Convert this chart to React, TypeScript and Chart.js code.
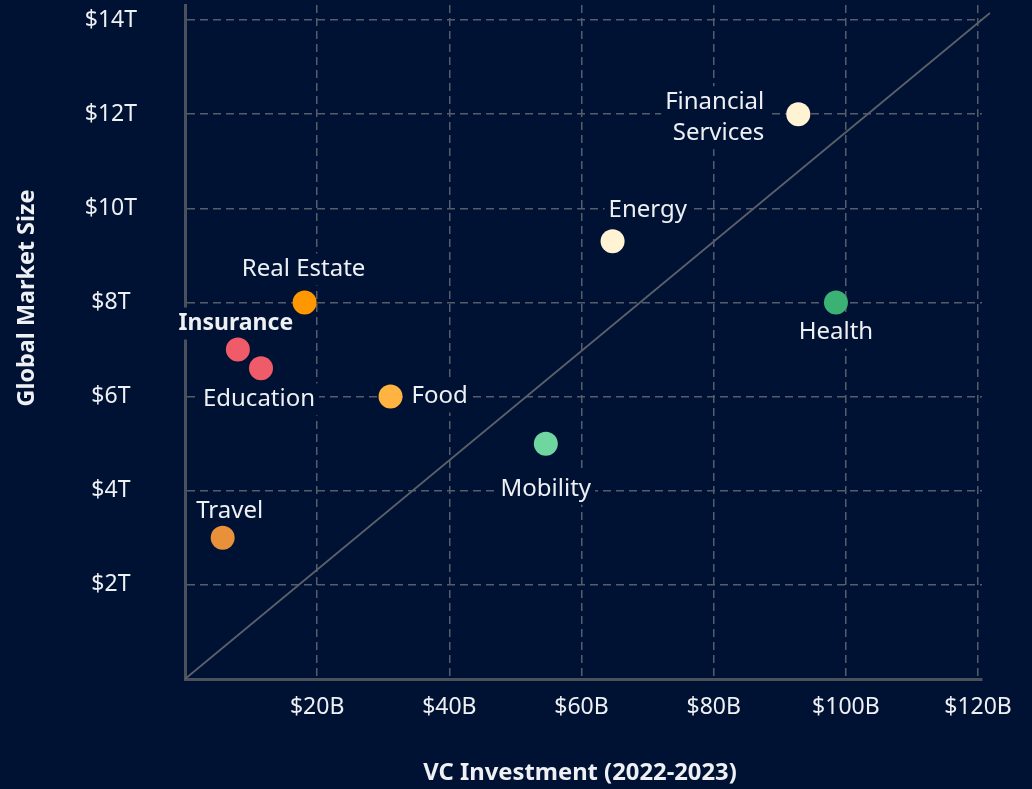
import React, { useEffect, useRef } from "react";
import { Chart, registerables } from "chart.js";

Chart.register(...registerables);

const categories = [
  "Financial Services",
  "Energy",
  "Health",
  "Real Estate",
  "Insurance",
  "Education",
  "Food",
  "Mobility",
  "Travel",
];
const vcInvestmentB = [92.8, 64.7, 98.5, 18.1, 8.0, 11.5, 31.1, 54.6, 5.7];
const marketSizeT = [12.0, 9.3, 8.0, 8.0, 7.0, 6.6, 6.0, 5.0, 3.0];
const pointColors = [
  "#fff3d4",
  "#fff3d4",
  "#3bb273",
  "#ff9800",
  "#ef5b68",
  "#ef5b68",
  "#ffb340",
  "#70d6a0",
  "#e8913a",
];
const xTickValues = [0, 20, 40, 60, 80, 100, 120];
const xTickLabels = ["", "$20B", "$40B", "$60B", "$80B", "$100B", "$120B"];
const yTickValues = [0, 2, 4, 6, 8, 10, 12, 14];
const yTickLabels = ["", "$2T", "$4T", "$6T", "$8T", "$10T", "$12T", "$14T"];
const diagonalX = [0, 121.8];
const diagonalY = [0, 14.15];
const xTitle = "VC Investment (2022-2023)";
const yTitle = "Global Market Size";

// label placement (style): lines, dx, dy, align, bold
const labelPlacement = [
  { lines: ["Financial", "Services"], dx: -34, dy: [-12, 19], align: "right", bold: false },
  { lines: ["Energy"], dx: -4, dy: [-31], align: "left", bold: false },
  { lines: ["Health"], dx: 0, dy: [30], align: "center", bold: false },
  { lines: ["Real Estate"], dx: -1, dy: [-33], align: "center", bold: false },
  { lines: ["Insurance"], dx: -2, dy: [-26], align: "center", bold: true },
  { lines: ["Education"], dx: -2, dy: [31], align: "center", bold: false },
  { lines: ["Food"], dx: 21, dy: [0], align: "left", bold: false },
  { lines: ["Mobility"], dx: 0, dy: [45], align: "center", bold: false },
  { lines: ["Travel"], dx: 7, dy: [-27], align: "center", bold: false },
];

const BG = "#001233";
const FONT = "'Noto Sans', sans-serif";
const TEXT = "#eef0f4";
const GRID = "#565c69";
const AXIS = "#4c505a";

const labelsPlugin = {
  id: "pointLabels",
  beforeDatasetsDraw(chart: any) {
    const { ctx } = chart;
    const xs = chart.scales.x;
    const ys = chart.scales.y;
    ctx.save();
    labelPlacement.forEach((lp, i) => {
      const px = xs.getPixelForValue(vcInvestmentB[i]);
      const py = ys.getPixelForValue(marketSizeT[i]);
      ctx.font = `${lp.bold ? "bold 23px" : "24px"} ${FONT}`;
      ctx.textBaseline = "middle";
      ctx.textAlign = lp.align;
      lp.lines.forEach((line, j) => {
        const w = ctx.measureText(line).width;
        const tx = px + lp.dx;
        const ty = py + lp.dy[j];
        let left = tx;
        if (lp.align === "center") left = tx - w / 2;
        else if (lp.align === "right") left = tx - w;
        ctx.fillStyle = BG;
        ctx.fillRect(left - 4, ty - 16, w + 8, 32);
        ctx.fillStyle = TEXT;
        ctx.fillText(line, tx, ty);
      });
    });
    ctx.restore();
  },
  afterDraw(chart: any) {
    const { ctx } = chart;
    ctx.save();
    ctx.fillStyle = TEXT;
    ctx.font = `bold 23.8px ${FONT}`;
    ctx.textAlign = "center";
    ctx.textBaseline = "middle";
    ctx.fillText(xTitle, 580, 773);
    ctx.font = `bold 23.4px ${FONT}`;
    ctx.translate(27, 298);
    ctx.rotate(-Math.PI / 2);
    ctx.fillText(yTitle, 0, 0);
    ctx.restore();
  },
};

export default function App() {
  const ref = useRef<HTMLCanvasElement>(null);
  useEffect(() => {
    document.body.style.margin = "0";
    document.body.style.background = BG;
    const chart = new Chart(ref.current as HTMLCanvasElement, {
      type: "scatter",
      data: {
        datasets: [
          {
            label: "Industries",
            data: categories.map((c, i) => ({ x: vcInvestmentB[i], y: marketSizeT[i] })),
            pointRadius: 12,
            pointHoverRadius: 12,
            pointBackgroundColor: pointColors,
            pointBorderWidth: 0,
            borderWidth: 0,
          },
          {
            label: "Parity",
            data: diagonalX.map((x, i) => ({ x, y: diagonalY[i] })),
            showLine: true,
            pointRadius: 0,
            borderColor: "#5c606a",
            borderWidth: 1.7,
            clip: false,
          } as any,
        ],
      },
      options: {
        responsive: false,
        animation: false,
        devicePixelRatio: 1,
        layout: { autoPadding: false, padding: { top: 5, right: 50, bottom: 0, left: 0 } },
        plugins: { legend: { display: false }, tooltip: { enabled: false } },
        scales: {
          x: {
            type: "linear",
            min: 0,
            max: 120.6,
            afterBuildTicks: (s: any) => {
              s.ticks = xTickValues.map((v) => ({ value: v }));
            },
            afterFit: (s: any) => {
              s.height = 110;
              s.paddingLeft = 0;
              s.paddingRight = 0;
            },
            grid: { color: GRID, lineWidth: 1.5, drawTicks: false },
            border: { display: true, color: AXIS, width: 3, dash: [8, 5] },
            ticks: {
              callback: (_v: any, i: number) => xTickLabels[i],
              color: TEXT,
              font: { family: FONT, size: 23 },
              padding: 15,
              maxRotation: 0,
              autoSkip: false,
            },
          },
          y: {
            type: "linear",
            min: 0,
            max: 14.32,
            afterBuildTicks: (s: any) => {
              s.ticks = yTickValues.map((v) => ({ value: v }));
            },
            afterFit: (s: any) => {
              s.width = 185;
              s.paddingTop = 0;
              s.paddingBottom = 0;
            },
            grid: { color: GRID, lineWidth: 1.5, drawTicks: false },
            border: { display: true, color: AXIS, width: 3, dash: [8, 5] },
            ticks: {
              callback: (_v: any, i: number) => yTickLabels[i],
              color: TEXT,
              font: { family: FONT, size: 23 },
              padding: 48,
              crossAlign: "center",
              autoSkip: false,
            },
          },
        },
      },
      plugins: [labelsPlugin],
    });
    return () => chart.destroy();
  }, []);
  return (
    <div style={{ position: "absolute", left: 0, top: 0, width: 1032, height: 789, background: BG }}>
      <canvas ref={ref} width={1032} height={789} style={{ display: "block" }} />
    </div>
  );
}
